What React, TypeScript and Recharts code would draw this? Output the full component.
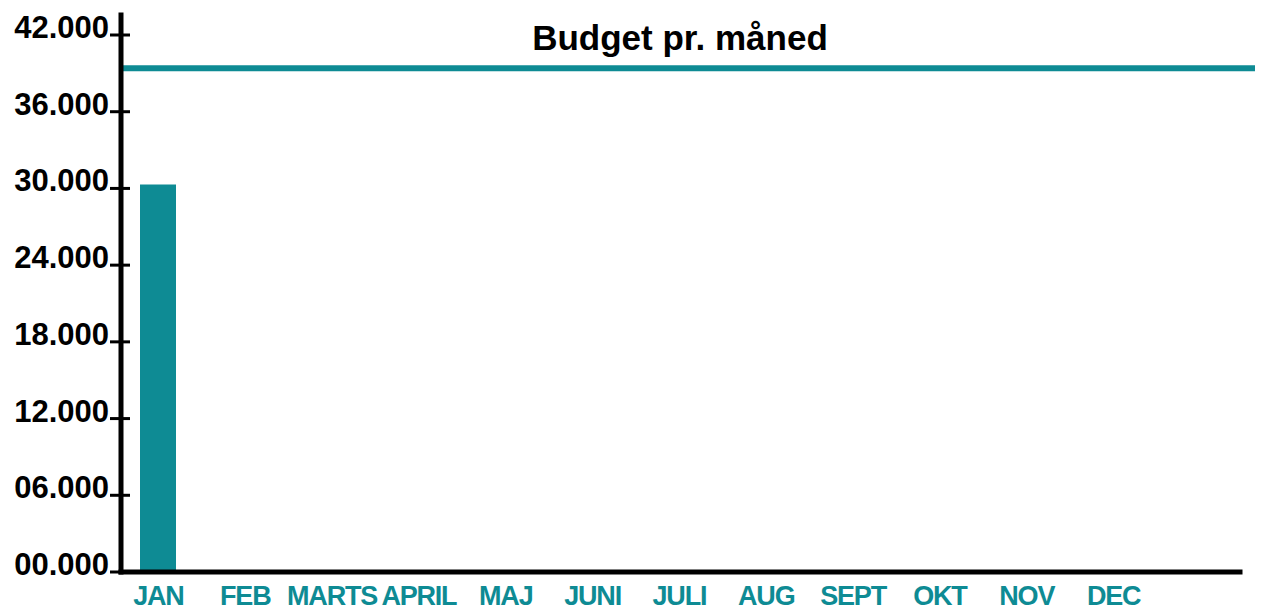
import React from 'react'
import { BarChart, Bar, XAxis, YAxis, ReferenceLine } from 'recharts'

const months = ['JAN', 'FEB', 'MARTS', 'APRIL', 'MAJ', 'JUNI', 'JULI', 'AUG', 'SEPT', 'OKT', 'NOV', 'DEC']
const spent = [30300, null, null, null, null, null, null, null, null, null, null, null]
const budget = 39400
const yTicks = [0, 6000, 12000, 18000, 24000, 30000, 36000, 42000]

const data = months.map((m, i) => ({ month: m, spent: spent[i] }))

const TEAL = '#0e8b94'
const FONT = '"Liberation Sans", Arial, Helvetica, sans-serif'

const fmt = (v: number) => String(Math.round(v / 1000)).padStart(2, '0') + '.000'

const YTick = (props: any) => {
  const { x, y, payload } = props
  return (
    <g>
      <line x1={x - 11} x2={x + 9} y1={y} y2={y} stroke="#000" strokeWidth={3} />
      <text x={x - 12} y={y + 3} textAnchor="end" fontFamily={FONT} fontWeight="bold" fontSize={31} fill="#000">
        {fmt(payload.value)}
      </text>
    </g>
  )
}

const XTick = (props: any) => {
  const { x, y, payload } = props
  return (
    <text x={x} y={y + 33} textAnchor="middle" fontFamily={FONT} fontWeight="bold" fontSize={27} letterSpacing={-1.2} fill={TEAL}>
      {payload.value}
    </text>
  )
}

const BudgetLine = (p: any) => {
  const xl = Math.min(p.x1, p.x2)
  const xr = Math.max(p.x1, p.x2) + 23
  return <line x1={xl} x2={xr} y1={p.y1} y2={p.y2} stroke={TEAL} strokeWidth={6} />
}

const App = () => {
  return (
    <div style={{ position: 'relative', width: 1255, height: 604 }}>
      <div
        style={{
          position: 'absolute',
          left: 372,
          top: 12,
          width: 600,
          textAlign: 'center',
          fontFamily: FONT,
          fontWeight: 'bold',
          fontSize: 35,
          lineHeight: '35px',
          color: '#000',
        }}
      >
        Budget pr. måned
      </div>
      <BarChart width={1255} height={604} data={data} margin={{ top: 7, right: 23, bottom: 0, left: 0 }}>
        <XAxis
          dataKey="month"
          height={40}
          padding={{ left: -6, right: 83 }}
          axisLine={{ stroke: '#000', strokeWidth: 5, strokeLinecap: 'square' }}
          tickLine={false}
          tickSize={0}
          tickMargin={0}
          interval={0}
          tick={<XTick />}
        />
        <YAxis
          width={113}
          domain={[0, 42000]}
          ticks={yTicks}
          padding={{ top: 20, bottom: 0 }}
          axisLine={{ stroke: '#000', strokeWidth: 5, strokeLinecap: 'square' }}
          tickLine={false}
          tickSize={0}
          tickMargin={0}
          interval={0}
          tick={<YTick />}
        />
        <ReferenceLine y={budget} shape={<BudgetLine />} />
        <Bar dataKey="spent" fill={TEAL} barSize={36} isAnimationActive={false} />
      </BarChart>
    </div>
  )
}

export default App
